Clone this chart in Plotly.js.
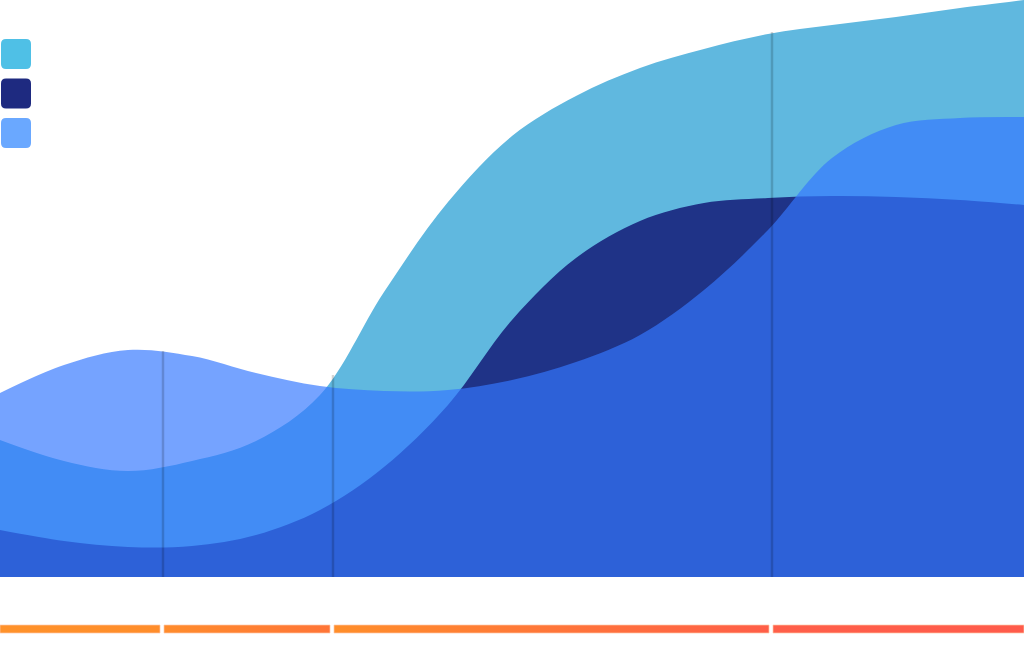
<!DOCTYPE html>
<html>
<head>
<meta charset="utf-8">
<script src="https://cdn.plot.ly/plotly-3.0.1.min.js"></script>
<style>html,body{margin:0;padding:0;background:#fff;}#chart{width:1024px;height:659px;}</style>
</head>
<body>
<div id="chart"></div>
<script>
// ---- data (values on the chart's value scale, 0 = baseline) ----
var seriesNames = ["Series A", "Series B", "Series C"];
var legendColors = ["#4fc0e6", "#1e2a80", "#6aa8ff"];

var xPos = [0, 64, 128, 192, 256, 320, 384, 448, 512, 576, 640, 704, 768, 832, 896, 960, 1024];
var seriesA = [137, 116, 106, 116, 136, 182, 285, 375, 441, 481, 509, 528, 543, 552, 560, 569, 577];
var seriesB = [47, 36, 30, 31, 42, 67, 110, 172, 257, 319, 356, 374, 379, 381, 380, 377, 372];
var seriesC = [184, 212, 227, 221, 204, 191, 186, 187, 197, 215, 242, 287, 347, 419, 452, 459, 460];

// marker positions (drop lines) and their heights
var dropX = [163, 333, 772];
var dropTop = [226, 202, 545];

// bottom period bar: period boundaries and gradient colours
var periodEdges = [0, 163, 333, 772, 1024];
var periodColors = [["#ff922a", "#ff8d2b"], ["#ff8c2c", "#ff7537"], ["#ff8e2a", "#ff5e48"], ["#ff5f49", "#ff5b4b"]];

// ---- area traces ----
var fills = ["rgb(96,184,223)", "rgb(31,51,135)", "rgba(51,120,255,0.68)"];
var ys = [seriesA, seriesB, seriesC];
var traces = [];
for (var t = 0; t < 3; t++) {
  traces.push({x: xPos, y: ys[t], name: seriesNames[t], type: "scatter", mode: "lines", fill: "tozeroy",
    line: {shape: "spline", smoothing: 1, width: 0, color: fills[t]}, fillcolor: fills[t],
    hoverinfo: "skip", showlegend: false});
}

// ---- period bar segments with horizontal gradients ----
var barTop = -48, barBottom = -56;
for (var i = 0; i < periodEdges.length - 1; i++) {
  var s = periodEdges[i] === 0 ? 0 : periodEdges[i] + 1;
  var e = i === periodEdges.length - 2 ? periodEdges[i + 1] : periodEdges[i + 1] - 3;
  traces.push({
    x: [s, e, e, s, s], y: [barTop, barTop, barBottom, barBottom, barTop],
    type: "scatter", mode: "lines", fill: "toself",
    line: {width: 1, color: "rgba(255,200,170,0.7)"},
    fillcolor: periodColors[i][0],
    fillgradient: {type: "horizontal", start: s, stop: e,
      colorscale: [[0, periodColors[i][0]], [1, periodColors[i][1]]]},
    hoverinfo: "skip", showlegend: false
  });
}

// ---- shapes: drop lines + legend swatches ----
function roundPath(x0, y0, x1, y1, r) {
  return "M" + (x0 + r) + "," + y0 + "L" + (x1 - r) + "," + y0 + "Q" + x1 + "," + y0 + "," + x1 + "," + (y0 - r) +
    "L" + x1 + "," + (y1 + r) + "Q" + x1 + "," + y1 + "," + (x1 - r) + "," + y1 +
    "L" + (x0 + r) + "," + y1 + "Q" + x0 + "," + y1 + "," + x0 + "," + (y1 + r) +
    "L" + x0 + "," + (y0 - r) + "Q" + x0 + "," + y0 + "," + (x0 + r) + "," + y0 + "Z";
}
var shapes = [];
for (var j = 0; j < dropX.length; j++) {
  shapes.push({type: "line", xref: "x", yref: "y", x0: dropX[j], x1: dropX[j], y0: 0, y1: dropTop[j],
    line: {color: "rgba(0,0,0,0.17)", width: 2.5}, layer: "above"});
}
for (var m = 0; m < legendColors.length; m++) {
  var tp = 538 - m * 39.5;
  shapes.push({type: "path", xref: "x", yref: "y", path: roundPath(1, tp, 31, tp - 30, 5),
    fillcolor: legendColors[m], line: {width: 0}, layer: "above"});
}

var layout = {
  width: 1024, height: 659,
  margin: {l: 0, r: 0, t: 0, b: 0, pad: 0},
  paper_bgcolor: "#ffffff", plot_bgcolor: "#ffffff",
  xaxis: {range: [0, 1024], visible: false, fixedrange: true},
  yaxis: {range: [-82, 577], visible: false, fixedrange: true},
  showlegend: false,
  shapes: shapes
};

Plotly.newPlot("chart", traces, layout, {staticPlot: true, displayModeBar: false});
</script>
</body>
</html>
